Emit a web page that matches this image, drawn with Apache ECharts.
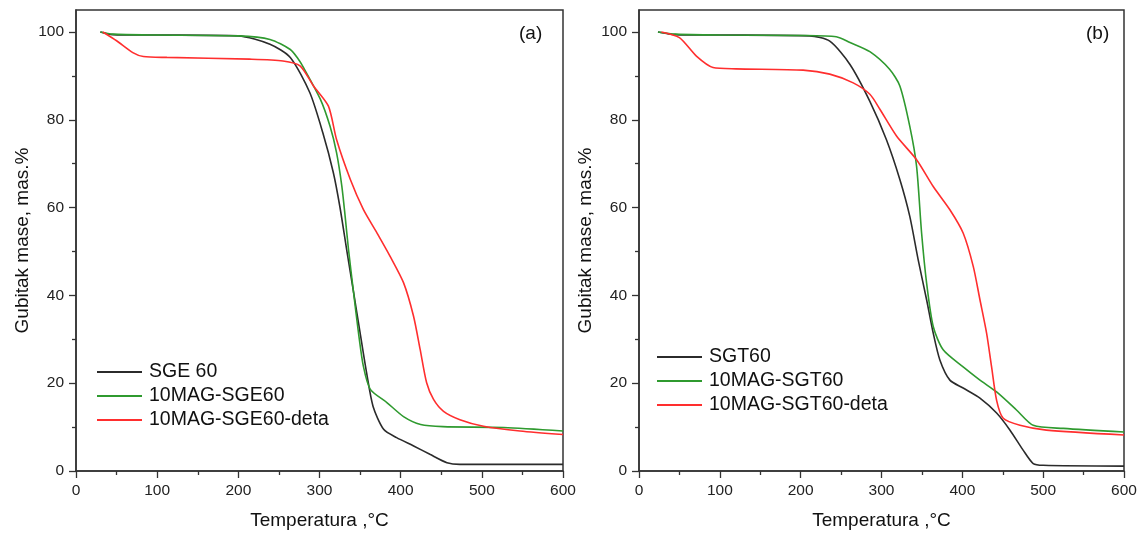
<!DOCTYPE html>
<html>
<head>
<meta charset="utf-8">
<script src="https://cdn.jsdelivr.net/npm/echarts@6/dist/echarts.min.js"></script>
<style>
html,body{margin:0;padding:0;background:#fff;}
#chart{width:1142px;height:535px;}
</style>
</head>
<body>
<div id="chart"></div>
<script>
// ---- Panel (a) ----
const aBlackT = [30, 45, 100, 200, 239, 264, 288, 304, 317, 325, 334, 342, 350, 358, 366, 379, 395, 416, 436, 457, 473, 600];
const aBlackV = [100, 99.4, 99.3, 99.1, 97.2, 94.2, 86.2, 77.1, 68, 60.3, 49.8, 40.7, 31.5, 22.4, 14.7, 9.5, 7.6, 5.7, 3.8, 1.9, 1.5, 1.5];
const aGreenT = [30, 45, 100, 200, 239, 264, 274, 280, 301, 313, 321, 327.5, 331.6, 335.7, 342, 348, 354, 362.6, 383, 403.5, 424.6, 452, 527, 600];
const aGreenV = [100, 99.5, 99.3, 99.1, 98.3, 96, 93.8, 92, 84.7, 78.5, 72.5, 64.9, 58, 50.5, 40.6, 31.5, 23.9, 18.6, 15.6, 12.4, 10.6, 10.1, 9.9, 9.1];
const aRedT = [33, 50, 70, 83, 112, 214, 255, 276, 292.6, 311, 321, 338, 354, 370.6, 387, 403.5, 415.8, 424, 432, 440.5, 452.8, 473, 502, 547, 600];
const aRedV = [100, 98, 95.3, 94.4, 94.2, 93.8, 93.4, 92.3, 87.7, 83.1, 75.5, 66.4, 59.6, 54.3, 48.9, 42.9, 35.3, 27.7, 20.1, 16.3, 13.6, 11.7, 10.2, 9.1, 8.3];
// ---- Panel (b) ----
const bBlackT = [23.5, 45, 100, 211, 236, 261, 285.6, 306, 322.7, 335, 345.4, 355.8, 364, 372.2, 384.6, 401, 421.8, 442.4, 459, 475.4, 487.7, 500, 600];
const bBlackV = [100, 99.4, 99.3, 99.1, 97.9, 92.6, 84.2, 75.5, 66.4, 58, 48.1, 39, 31.4, 25.3, 20.7, 18.9, 16.6, 13.2, 9.3, 4.7, 1.7, 1.3, 1.1];
const bGreenT = [23.5, 45, 100, 200, 244, 261, 285.6, 310, 322.7, 335, 343.4, 349.6, 355.8, 364, 376.3, 401, 421.8, 442.4, 467, 487.7, 525, 600];
const bGreenV = [100, 99.5, 99.3, 99.2, 98.9, 97.6, 95.5, 91.5, 87.7, 78.5, 69.4, 54.2, 42.8, 32.9, 27.6, 23.7, 20.7, 18, 13.9, 10.4, 9.7, 8.9];
const bRedT = [27.7, 50, 71, 91.6, 120, 203, 236, 265, 285.6, 298, 318.6, 343.4, 364, 384.6, 401, 413.5, 421.8, 430, 436.2, 442.4, 450.6, 471.3, 504, 600];
const bRedV = [100, 98.7, 94.5, 91.9, 91.6, 91.3, 90.4, 88.4, 85.8, 82.4, 76.3, 70.9, 64.8, 59.5, 54.2, 46.6, 39, 31.4, 23.7, 16.1, 12, 10.4, 9.3, 8.2];

const namesA = ['SGE 60', '10MAG-SGE60', '10MAG-SGE60-deta'];
const namesB = ['SGT60', '10MAG-SGT60', '10MAG-SGT60-deta'];
const xTicks = [0, 100, 200, 300, 400, 500, 600];
const yTicks = [0, 20, 40, 60, 80, 100];
const yMinorTicks = [10, 30, 50, 70, 90];
const xName = 'Temperatura ,°C';
const yName = 'Gubitak mase, mas.%';
const panelLabels = ['(a)', '(b)'];

const zip = (t, v) => t.map((x, i) => [x, v[i]]);
const colors = ['#2b2b2b', '#2f9a2f', '#ff2e2e'];
const FONT = 'Liberation Sans, Arial, sans-serif';
const axisColor = '#333';

function xAxes(gi) {
  return [{
    type: 'value', gridIndex: gi, min: 0, max: 600, interval: 100,
    name: xName, nameLocation: 'middle', nameGap: 40,
    nameTextStyle: {fontFamily: FONT, fontSize: 19, color: '#111'},
    axisLine: {show: true, onZero: false, lineStyle: {color: axisColor, width: 1.5}},
    axisTick: {show: true, length: 7, inside: false, lineStyle: {color: axisColor, width: 1.3}},
    minorTick: {show: true, splitNumber: 2, length: 4, lineStyle: {color: axisColor, width: 1.3}},
    axisLabel: {fontFamily: FONT, fontSize: 15.5, color: '#222', margin: 12},
    splitLine: {show: false}
  }];
}
function yAxes(gi) {
  return [{
    type: 'value', gridIndex: gi, min: 0, max: 105,
    name: yName, nameLocation: 'middle', nameGap: 44, nameRotate: 90,
    nameTextStyle: {fontFamily: FONT, fontSize: 19, color: '#111'},
    axisLine: {show: true, onZero: false, lineStyle: {color: axisColor, width: 1.5}},
    axisTick: {show: true, length: 7, customValues: yTicks, lineStyle: {color: axisColor, width: 1.3}},
    axisLabel: {fontFamily: FONT, fontSize: 15.5, color: '#222', margin: 12, customValues: yTicks},
    splitLine: {show: false}
  }, {
    type: 'value', gridIndex: gi, min: 0, max: 105, position: 'left',
    axisLine: {show: false},
    axisTick: {show: true, length: 4, customValues: yMinorTicks, lineStyle: {color: axisColor, width: 1.3}},
    axisLabel: {show: false},
    splitLine: {show: false}
  }];
}

const grids = [
  {left: 76, right: 579, top: 10, bottom: 63.5, show: true, borderColor: axisColor, borderWidth: 1.5, backgroundColor: '#fff'},
  {left: 639, right: 18, top: 10, bottom: 64, show: true, borderColor: axisColor, borderWidth: 1.5, backgroundColor: '#fff'}
];

function mkSeries(name, data, color, xi, yi) {
  return {
    type: 'line', name: name, data: data, xAxisIndex: xi, yAxisIndex: yi,
    showSymbol: false, symbol: 'none', smooth: 0.25,
    lineStyle: {color: color, width: 1.6}, itemStyle: {color: color}, z: 3
  };
}

const series = [
  mkSeries(namesA[0], zip(aBlackT, aBlackV), colors[0], 0, 0),
  mkSeries(namesA[1], zip(aGreenT, aGreenV), colors[1], 0, 0),
  mkSeries(namesA[2], zip(aRedT, aRedV), colors[2], 0, 0),
  mkSeries(namesB[0], zip(bBlackT, bBlackV), colors[0], 1, 2),
  mkSeries(namesB[1], zip(bGreenT, bGreenV), colors[1], 1, 2),
  mkSeries(namesB[2], zip(bRedT, bRedV), colors[2], 1, 2)
];

function mkLegend(names, left, top) {
  return {
    data: names, orient: 'vertical', left: left, top: top,
    itemWidth: 45, itemHeight: 2, itemGap: 4, icon: 'rect',
    textStyle: {fontFamily: FONT, fontSize: 19.5, color: '#111', lineHeight: 20, padding: [0, 0, 0, 2]},
    selectedMode: false, padding: 0
  };
}

const option = {
  backgroundColor: '#fff',
  animation: false,
  title: [
    {text: panelLabels[0], left: 519, top: 24, textStyle: {fontFamily: FONT, fontSize: 19, fontWeight: 'normal', color: '#111'}, padding: 0},
    {text: panelLabels[1], left: 1086, top: 24, textStyle: {fontFamily: FONT, fontSize: 19, fontWeight: 'normal', color: '#111'}, padding: 0}
  ],
  grid: grids,
  xAxis: [...xAxes(0), ...xAxes(1)],
  yAxis: [...yAxes(0), ...yAxes(1)],
  legend: [mkLegend(namesA, 97, 362), mkLegend(namesB, 657, 347)],
  series: series
};

const chart = echarts.init(document.getElementById('chart'), null, {renderer: 'canvas'});
chart.setOption(option);
</script>
</body>
</html>
